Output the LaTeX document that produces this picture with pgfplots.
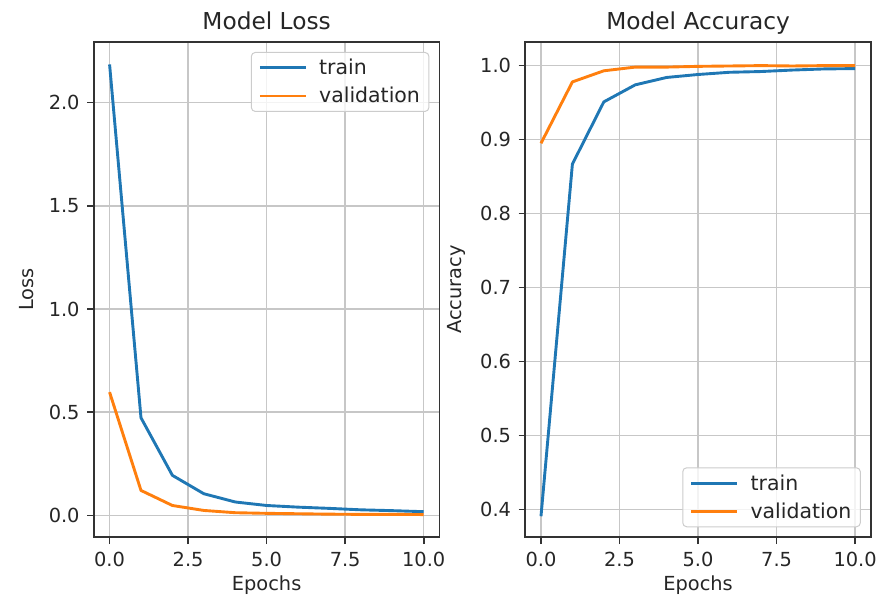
\documentclass[border=0pt]{standalone}
\usepackage{fontspec}
\setmainfont{DejaVu Sans}
\usepackage{pgfplots}
\pgfplotsset{compat=1.18}

\definecolor{mplblue}{HTML}{1F77B4}
\definecolor{mplorange}{HTML}{FF7F0E}
\definecolor{txt}{HTML}{262626}

\pgfplotsset{
  mpl/.style={
    scale only axis, width=346bp, height=496bp,
    xmin=-0.5, xmax=10.5,
    xtick={0,2.5,5,7.5,10},
    grid=major,
    major grid style={line width=1.5bp, color=black!22},
    axis line style={line width=1.6bp, black!80},
    tick align=outside, major tick length=6.8bp,
    tick style={line width=1.6bp, black!80},
    xtick pos=bottom, ytick pos=left,
    tick label style={font=\fontsize{19.4bp}{23bp}\selectfont, text=txt},
    label style={font=\fontsize{19.4bp}{23bp}\selectfont, text=txt},
    title style={font=\fontsize{23.3bp}{28bp}\selectfont, text=txt,
                 at={(0.5,1)}, anchor=base, yshift=6bp},
    xticklabel style={/pgf/number format/fixed, /pgf/number format/fixed zerofill,
                      /pgf/number format/precision=1, yshift=-5bp},
    yticklabel style={/pgf/number format/fixed, /pgf/number format/fixed zerofill,
                      /pgf/number format/precision=1, xshift=-4bp},
    /pgf/number format/assume math mode=true,
    xlabel={Epochs},
    xlabel shift=2bp, ylabel shift=8bp,
    legend cell align=left,
    legend style={font=\fontsize{20.5bp}{24bp}\selectfont, text=txt,
                  draw=black!20, line width=1bp, rounded corners=4bp,
                  fill=white, fill opacity=0.8, text opacity=1,
                  inner xsep=7bp, inner ysep=5bp, row sep=7bp, column sep=10bp},
    legend image code/.code={\draw[##1] (0bp,0bp) -- (46bp,0bp);},
    every axis plot/.append style={line width=2.9bp, line join=round},
  }
}

\begin{document}
\begin{tikzpicture}
\path (-94bp,-58bp) rectangle (786bp,538bp);

\begin{axis}[mpl,
    at={(0,0)}, anchor=south west,
    title={Model Loss}, ylabel={Loss},
    ymin=-0.106, ymax=2.294,
    ytick={0,0.5,1,1.5,2},
    legend style={at={(1,1)}, anchor=north east, xshift=-10bp, yshift=-10bp}]
\addplot[mplblue] coordinates {
  (0,2.185) (1,0.473) (2,0.194) (3,0.105) (4,0.065) (5,0.048)
  (6,0.040) (7,0.034) (8,0.027) (9,0.023) (10,0.018)};
\addplot[mplorange] coordinates {
  (0,0.597) (1,0.121) (2,0.048) (3,0.024) (4,0.013) (5,0.010)
  (6,0.008) (7,0.006) (8,0.005) (9,0.005) (10,0.004)};
\legend{train, validation}
\end{axis}

\begin{axis}[mpl,
    at={(432bp,0)}, anchor=south west,
    title={Model Accuracy}, ylabel={Accuracy},
    ymin=0.3626, ymax=1.032,
    ytick={0.4,0.5,0.6,0.7,0.8,0.9,1.0},
    legend style={at={(1,0)}, anchor=south east, xshift=-10bp, yshift=10bp}]
\addplot[mplblue] coordinates {
  (0,0.391) (1,0.867) (2,0.951) (3,0.974) (4,0.984) (5,0.988)
  (6,0.991) (7,0.992) (8,0.994) (9,0.9955) (10,0.996)};
\addplot[mplorange] coordinates {
  (0,0.895) (1,0.978) (2,0.993) (3,0.998) (4,0.998) (5,0.999)
  (6,0.9995) (7,1.0) (8,0.9995) (9,1.0) (10,1.0)};
\legend{train, validation}
\end{axis}
\end{tikzpicture}
\end{document}
